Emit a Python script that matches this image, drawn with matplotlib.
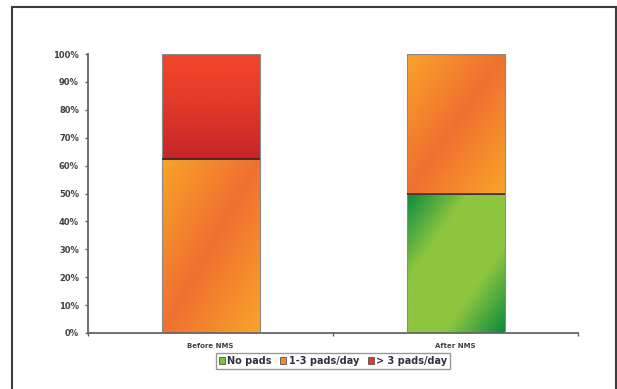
import numpy as np
import matplotlib.pyplot as plt
from matplotlib.patches import Patch, Rectangle
from matplotlib.colors import to_rgb
from matplotlib.ticker import FixedLocator

# ---------------- data ----------------
categories = ["Before NMS", "After NMS"]
no_pads = [0.0, 50.0]
pads_1_3 = [62.5, 50.0]
pads_gt3 = [37.5, 0.0]
series_names = ["No pads", "1-3 pads/day", "> 3 pads/day"]
y_ticks = [0, 10, 20, 30, 40, 50, 60, 70, 80, 90, 100]


def grad_img(kind, n=120):
    # 渐变填充，模仿 Excel 的双色渐变
    u, v = np.meshgrid(np.linspace(0, 1, n), np.linspace(0, 1, n))
    if kind == "red":
        c0, c1 = np.array(to_rgb("#f2462a")), np.array(to_rgb("#c4252a"))
        t = v ** 1.3
    elif kind == "orange":
        c0, c1 = np.array(to_rgb("#f8a42a")), np.array(to_rgb("#f07030"))
        t = 1 - np.abs(u + v - 1)
    else:
        c0, c1 = np.array(to_rgb("#0b8a40")), np.array(to_rgb("#8dc63f"))
        t = np.clip((1 - np.abs(u + v - 1)) * 1.6, 0, 1)
    return c0 + (c1 - c0) * t[..., None]


fig = plt.figure(figsize=(6.17, 3.89), dpi=100)
ax = fig.add_axes([88 / 617, 1 - 333 / 389, 490 / 617, 279 / 389])

x = np.arange(len(categories)) + 0.5
width = 0.4
stacks = [(no_pads, "green"), (pads_1_3, "orange"), (pads_gt3, "red")]
bottom = np.zeros(len(categories))
for vals, kind in stacks:
    vals = np.array(vals)
    bars = ax.bar(x, vals, width, bottom=bottom, facecolor="none",
                  edgecolor="#8a8a8a", linewidth=0.8, zorder=3)
    for b, val in zip(bars, vals):
        if val <= 0:
            continue
        x0, y0 = b.get_x(), b.get_y()
        im = ax.imshow(grad_img(kind), extent=[x0, x0 + b.get_width(), y0, y0 + val],
                       origin="upper", aspect="auto", zorder=2, interpolation="bilinear")
        im.set_clip_path(b)
    bottom = bottom + vals

# 段与段之间的深色分界线
bottom = np.zeros(len(categories))
for vals, kind in stacks[:-1]:
    bottom = bottom + np.array(vals)
    for xi, b in zip(x, bottom):
        if 0 < b < 100:
            ax.plot([xi - width / 2, xi + width / 2], [b, b], color="#3a2418",
                    linewidth=1.2, zorder=4, solid_capstyle="butt")

ax.set_xlim(0, 2)
ax.set_ylim(0, 100)
ax.yaxis.set_major_locator(FixedLocator(y_ticks))
ax.set_yticklabels([f"{t}%" for t in y_ticks], fontsize=6, fontweight="bold", color="#404048")
ax.set_xticks([0, 1, 2])
ax.set_xticklabels([])
ax.set_xticks(x, minor=True)
ax.set_xticklabels(categories, minor=True, fontsize=5, fontweight="bold", color="#404048")
ax.tick_params(axis="x", which="minor", length=0, pad=7)
ax.tick_params(axis="x", which="major", length=2, width=1, color="#606060")
ax.tick_params(axis="y", length=2.5, width=1, color="#606060", pad=4)

for s in ["top", "right"]:
    ax.spines[s].set_visible(False)
for s in ["left", "bottom"]:
    ax.spines[s].set_color("#646464")
    ax.spines[s].set_linewidth(1.3)

handles = [Patch(facecolor="#7cc03f", edgecolor="#555555", linewidth=0.6),
           Patch(facecolor="#f58a2e", edgecolor="#555555", linewidth=0.6),
           Patch(facecolor="#e8352a", edgecolor="#555555", linewidth=0.6)]
leg = fig.legend(handles, series_names, loc="center", bbox_to_anchor=(333 / 617, 1 - 361 / 389),
                 ncol=3, prop={"weight": "bold", "size": 7}, frameon=True,
                 fancybox=False, edgecolor="#808080", handlelength=0.6, handleheight=0.6,
                 handletextpad=0.25, columnspacing=0.9, borderpad=0.3, borderaxespad=0)
leg.get_frame().set_linewidth(1.0)
for t in leg.get_texts():
    t.set_color("#303040")

# 外框
fig.patches.append(Rectangle((12 / 617, -0.05), 604 / 617, 1.05 - 7 / 389,
                             transform=fig.transFigure, fill=False,
                             edgecolor="#3c3c3c", linewidth=1.5))

fig.savefig("out.png", dpi=100)
